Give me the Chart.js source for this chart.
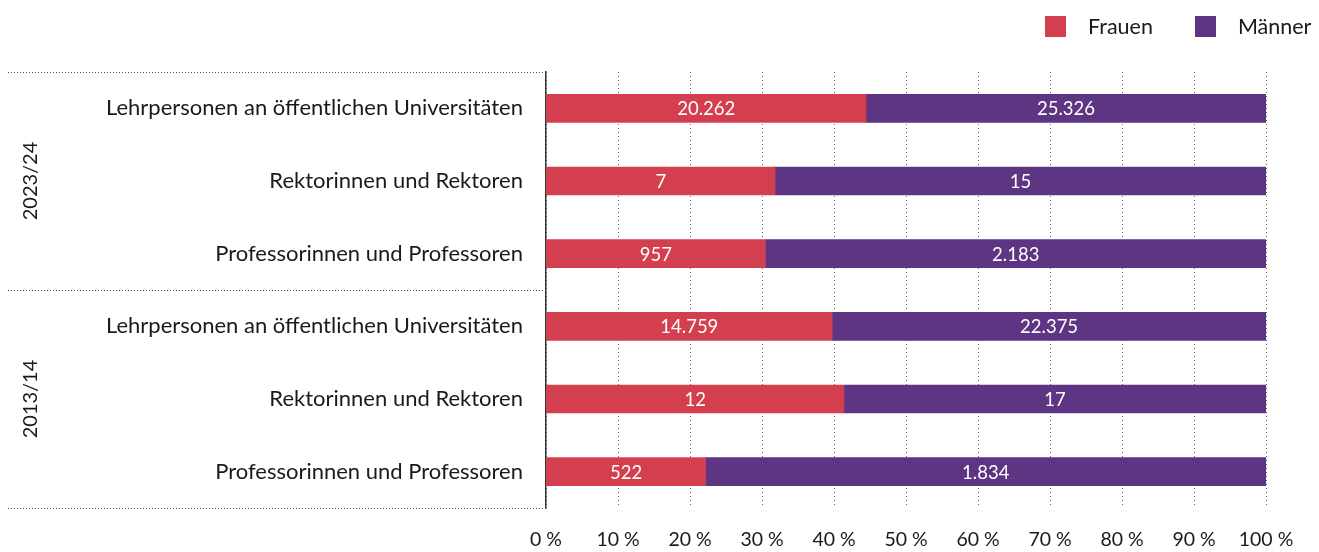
<!DOCTYPE html>
<html lang="de">
<head>
<meta charset="utf-8">
<script src="https://cdn.jsdelivr.net/npm/chart.js@4"></script>
<style>
html,body{margin:0;padding:0;background:#fff;}
#wrap{position:relative;width:1319px;height:552px;}
#legend{position:absolute;top:15px;left:1045px;display:flex;align-items:center;font:21.5px Lato,sans-serif;color:#1a1a1a;}
.lg{display:flex;align-items:center;height:22px;}
.lg i{display:inline-block;width:21px;height:21px;margin-right:22px;}
.lg+.lg{margin-left:42px;}
</style>
</head>
<body>
<div id="wrap">
  <canvas id="c" width="1319" height="552"></canvas>
  <div id="legend"></div>
</div>
<script>
'use strict';

const years=['2023/24','2013/14'];
const rows=['Lehrpersonen an öffentlichen Universitäten','Rektorinnen und Rektoren','Professorinnen und Professoren',
            'Lehrpersonen an öffentlichen Universitäten','Rektorinnen und Rektoren','Professorinnen und Professoren'];
const frauen=[20262,7,957,14759,12,522];
const maenner=[25326,15,2183,22375,17,1834];
const xTicks=[0,10,20,30,40,50,60,70,80,90,100];

const C_F='#d33f4f',C_M='#5e3582',TXT='#1a1a1a',FONT='Lato';
const fmt=n=>String(n).replace(/\B(?=(\d{3})+(?!\d))/g,'.');
const pct=(a,b)=>a.map((v,i)=>v/(v+b[i])*100);
const counts=[frauen,maenner];

document.getElementById('legend').innerHTML=[['Frauen',C_F],['Männer',C_M]]
  .map(([t,c])=>`<div class="lg"><i style="background:${c}"></i>${t}</div>`).join('');

const decor={
  id:'decor',
  afterDatasetsDraw(chart){
    const ctx=chart.ctx;
    ctx.save();
    ctx.fillStyle='#fff'; ctx.font='18.5px '+FONT; ctx.textAlign='center'; ctx.textBaseline='middle';
    chart.data.datasets.forEach((ds,di)=>{
      chart.getDatasetMeta(di).data.forEach((bar,i)=>{
        const p=bar.getProps(['x','y','base'],true);
        ctx.fillText(fmt(counts[di][i]),(p.x+p.base)/2,p.y+1);
      });
    });
    ctx.restore();
  },
  afterDraw(chart){
    const ctx=chart.ctx,a=chart.chartArea,ys=chart.scales.y;
    const per=rows.length/years.length;
    const seps=[a.top];
    for(let g=1;g<years.length;g++) seps.push((ys.getPixelForValue(g*per-1)+ys.getPixelForValue(g*per))/2);
    seps.push(a.bottom);
    ctx.save();
    ctx.strokeStyle='#555'; ctx.lineWidth=1; ctx.setLineDash([1,2]);
    seps.forEach(y=>{ ctx.beginPath(); ctx.moveTo(8,Math.round(y)+.5); ctx.lineTo(a.left,Math.round(y)+.5); ctx.stroke(); });
    ctx.setLineDash([]);
    ctx.fillStyle=TXT; ctx.font='20px '+FONT; ctx.textAlign='center'; ctx.textBaseline='middle';
    years.forEach((t,g)=>{
      const y=(seps[g]+seps[g+1])/2;
      ctx.save(); ctx.translate(31,y); ctx.rotate(-Math.PI/2); ctx.fillText(t,0,0); ctx.restore();
    });
    ctx.restore();
  }
};

new Chart(document.getElementById('c'),{
  type:'bar',
  data:{labels:rows,datasets:[
    {label:'Frauen',data:pct(frauen,maenner),backgroundColor:C_F,barThickness:28},
    {label:'Männer',data:pct(maenner,frauen),backgroundColor:C_M,barThickness:28}
  ]},
  options:{
    indexAxis:'y',responsive:false,animation:false,
    layout:{padding:{top:72,right:53,bottom:0,left:0}},
    plugins:{legend:{display:false},tooltip:{enabled:false}},
    scales:{
      x:{stacked:true,min:0,max:100,
         afterBuildTicks:s=>{s.ticks=xTicks.map(v=>({value:v}));},
         afterFit:s=>{s.height=44;},
         ticks:{color:TXT,font:{family:FONT,size:19.5},padding:20,callback:v=>v+' %'},
         grid:{color:'#666',lineWidth:1,drawTicks:false},
         border:{display:false,dash:[1,3]}},
      y:{stacked:true,
         afterFit:s=>{s.width=546;},
         ticks:{color:TXT,font:{family:FONT,size:22},padding:23},
         grid:{display:false,drawTicks:false},
         border:{display:true,color:'#333',width:1.5}}
    }
  },
  plugins:[decor]
});
</script>
</body>
</html>
